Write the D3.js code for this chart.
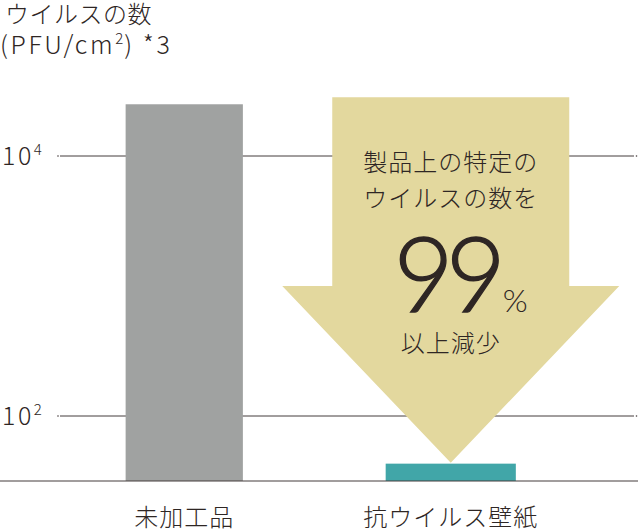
<!DOCTYPE html>
<html>
<head>
  <meta charset="utf-8">
  <title>ウイルスの数</title>
  <script src="https://d3js.org/d3.v7.min.js"></script>
  <style>
    body { margin: 0; background: #fff; }
    text { font-family: "Noto Sans CJK JP", "Noto Sans", sans-serif; font-weight: 300; fill: #2e2624; }
    .num { font-family: Lato, "Noto Sans", sans-serif; }
  </style>
</head>
<body>
  <svg id="chart"></svg>
  <script>
    // data
    const categories = ["未加工品", "抗ウイルス壁紙"];
    const values = [25000, 43];
    const tickValues = [1e2, 1e4];
    const titleLines = ["ウイルスの数", "(PFU/cm", "2", ") *3"];
    const calloutLines = ["製品上の特定の", "ウイルスの数を"];
    const calloutPct = ["99", "%"];
    const calloutTail = "以上減少";

    const width = 638, height = 532;
    const barColors = ["#a0a2a1", "#41a6a8"];

    const svg = d3.select("#chart")
        .attr("width", width)
        .attr("height", height);

    const x = d3.scaleBand()
        .domain(categories)
        .range([51, 584])
        .paddingInner(0.56)
        .paddingOuter(0.28);

    const y = d3.scaleLog()
        .domain([Math.pow(10, 1.5), 1e4])
        .range([481, 156]);

    // gridlines (drawn behind bars)
    const grid = svg.append("g");
    tickValues.forEach(t => {
      grid.append("line")
        .attr("x1", 60).attr("x2", 634)
        .attr("y1", y(t)).attr("y2", y(t))
        .attr("stroke", "#453d3d").attr("stroke-width", 1);
      grid.append("circle").attr("cx", 58).attr("cy", y(t)).attr("r", 0.8).attr("fill", "#453d3d");
      grid.append("circle").attr("cx", 636.5).attr("cy", y(t)).attr("r", 0.8).attr("fill", "#453d3d");

      const lab = svg.append("text")
        .attr("x", 2).attr("y", y(t) + 9)
        .attr("font-size", 25)
        .attr("letter-spacing", 2.5);
      lab.append("tspan").text("10");
      lab.append("tspan").attr("font-size", 15).attr("dy", -10).attr("letter-spacing", 0).text(Math.round(Math.log10(t)));
    });

    // bars
    const bw = i => i === 0 ? x.bandwidth() : x.bandwidth() * 1.11;
    svg.selectAll("rect.bar")
      .data(values)
      .enter()
      .append("rect")
        .attr("class", "bar")
        .attr("x", (d, i) => x(categories[i]) + x.bandwidth() / 2 - bw(i) / 2)
        .attr("y", d => y(d))
        .attr("width", (d, i) => bw(i))
        .attr("height", d => y.range()[0] - y(d))
        .attr("fill", (d, i) => barColors[i]);

    // reduction arrow over the second category
    const cx = x(categories[1]) + x.bandwidth() / 2;
    const shaftHalf = 118.5, headHalf = 168.5;
    const yTop = y(values[0]) - 7, yHead = y(1e3), yTip = y(values[1]) - 1;
    svg.append("path")
      .attr("d", d3.line()([
        [cx - shaftHalf, yTop], [cx + shaftHalf, yTop], [cx + shaftHalf, yHead],
        [cx + headHalf, yHead], [cx, yTip], [cx - headHalf, yHead], [cx - shaftHalf, yHead]
      ]) + "Z")
      .attr("fill", "#e3d89e");

    calloutLines.forEach((s, i) => {
      svg.append("text")
        .attr("x", cx).attr("y", 171 + i * 36)
        .attr("text-anchor", "middle")
        .attr("font-size", 24)
        .attr("letter-spacing", 1)
        .text(s);
    });
    svg.append("text")
      .attr("class", "num")
      .attr("x", cx - 5).attr("y", 312)
      .attr("text-anchor", "middle")
      .attr("font-size", 104)
      .attr("letter-spacing", -8)
      .attr("stroke", "#2e2624")
      .attr("stroke-width", 1.3)
      .text(calloutPct[0]);
    svg.append("text")
      .attr("class", "num")
      .attr("x", cx + 52).attr("y", 312)
      .attr("font-size", 32)
      .text(calloutPct[1]);
    svg.append("text")
      .attr("x", cx).attr("y", 352)
      .attr("text-anchor", "middle")
      .attr("font-size", 24)
      .attr("letter-spacing", 1)
      .text(calloutTail);

    // baseline
    svg.append("line")
      .attr("x1", 0).attr("x2", width)
      .attr("y1", y.range()[0]).attr("y2", y.range()[0])
      .attr("stroke", "#453d3d").attr("stroke-width", 1.2);

    // category labels
    svg.selectAll("text.cat")
      .data(categories)
      .enter()
      .append("text")
        .attr("class", "cat")
        .attr("x", d => x(d) + x.bandwidth() / 2)
        .attr("y", 526)
        .attr("text-anchor", "middle")
        .attr("font-size", 24)
        .attr("letter-spacing", 1)
        .text(d => d);

    // axis title
    svg.append("text")
      .attr("x", 5).attr("y", 23)
      .attr("font-size", 24)
      .attr("letter-spacing", 0.5)
      .text(titleLines[0]);
    const t2 = svg.append("text")
      .attr("x", 0).attr("y", 54)
      .attr("font-size", 25)
      .attr("letter-spacing", 2.6);
    t2.append("tspan").text(titleLines[1]);
    t2.append("tspan").attr("font-size", 15).attr("dy", -10).attr("letter-spacing", 1).text(titleLines[2]);
    t2.append("tspan").attr("dy", 10).text(titleLines[3]);
  </script>
</body>
</html>
